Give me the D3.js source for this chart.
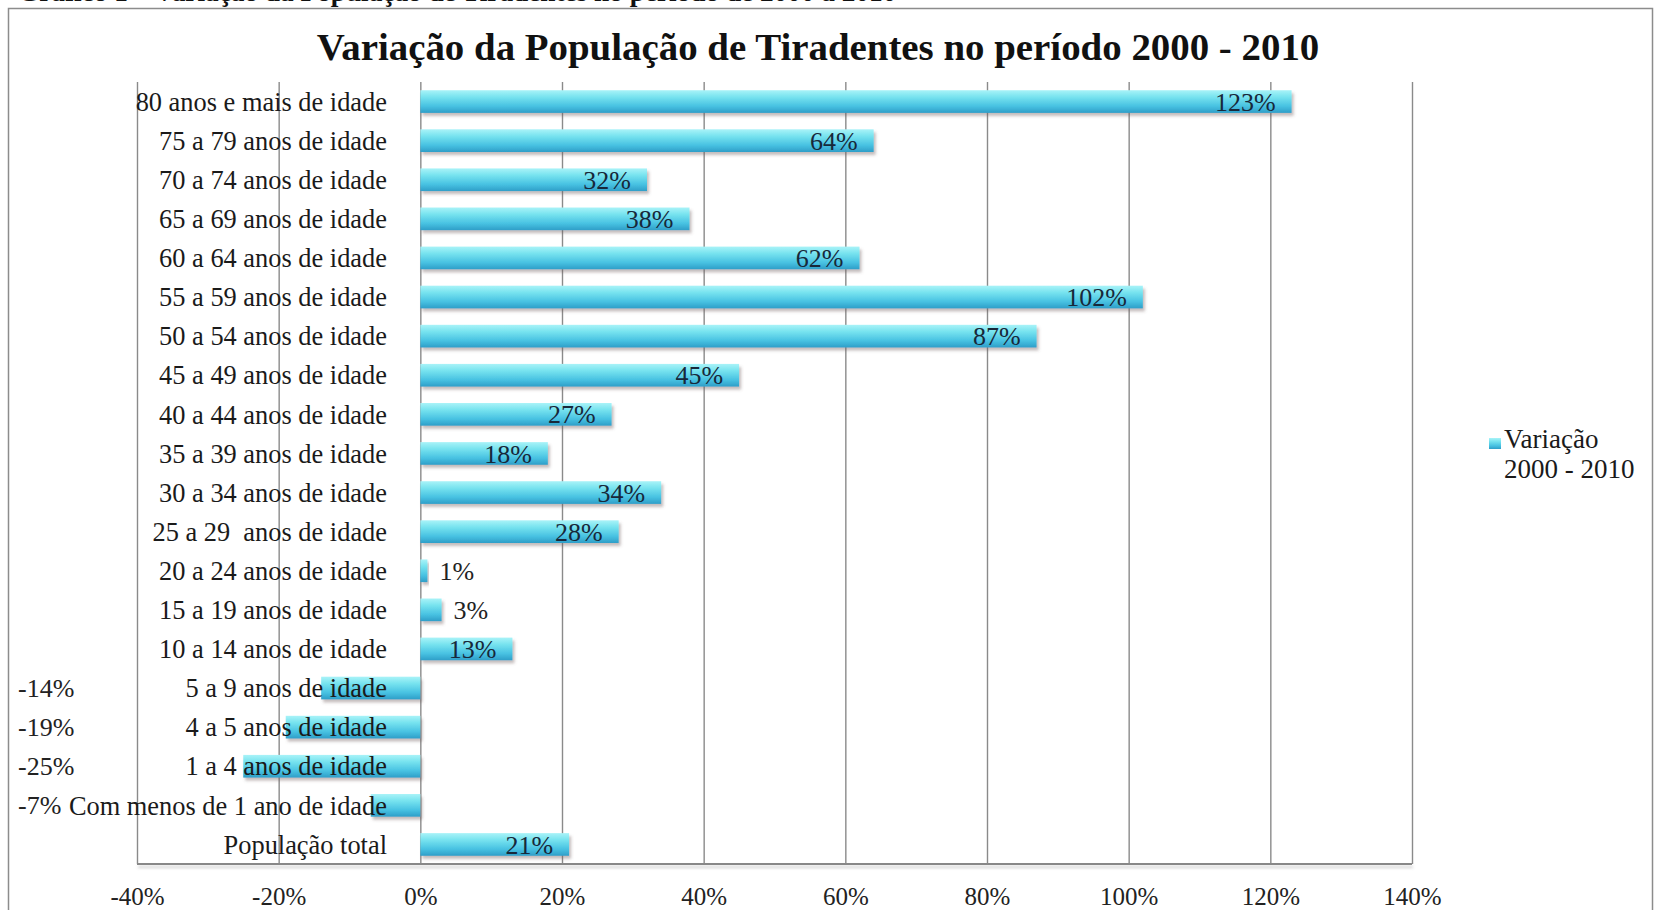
<!DOCTYPE html>
<html lang="pt">
<head>
<meta charset="utf-8">
<title>Variação da População de Tiradentes no período 2000 - 2010</title>
<script src="https://cdn.jsdelivr.net/npm/d3@7/dist/d3.min.js"></script>
<style>
  html, body { margin: 0; padding: 0; background: #fff; }
  svg { display: block; }
  text { font-family: "Liberation Serif", "Times New Roman", serif; }
</style>
</head>
<body>
<svg id="chart" width="1656" height="910"></svg>
<script>
// Faixas etárias (de cima para baixo) e variação percentual 2000-2010
const categories = [
  "80 anos e mais de idade",
  "75 a 79 anos de idade",
  "70 a 74 anos de idade",
  "65 a 69 anos de idade",
  "60 a 64 anos de idade",
  "55 a 59 anos de idade",
  "50 a 54 anos de idade",
  "45 a 49 anos de idade",
  "40 a 44 anos de idade",
  "35 a 39 anos de idade",
  "30 a 34 anos de idade",
  "25 a 29  anos de idade",
  "20 a 24 anos de idade",
  "15 a 19 anos de idade",
  "10 a 14 anos de idade",
  "5 a 9 anos de idade",
  "4 a 5 anos de idade",
  "1 a 4 anos de idade",
  "Com menos de 1 ano de idade",
  "População total"
];
const variacao = [123, 64, 32, 38, 62, 102, 87, 45, 27, 18, 34, 28, 1, 3, 13, -14, -19, -25, -7, 21];
const xTicks = [-40, -20, 0, 20, 40, 60, 80, 100, 120, 140];
const seriesName = ["Variação", "2000 - 2010"];
const caption = "Gráfico 1 – Variação da População de Tiradentes no período de 2000 a 2010";
const title = "Variação da População de Tiradentes no período 2000 - 2010";

const svg = d3.select("#chart");
const plot = { left: 137, right: 1412, top: 82, bottom: 864 };

const x = d3.scaleLinear().domain([-40, 140]).range([plot.left, plot.right]);
const y = d3.scaleBand().domain(categories).range([plot.top, plot.bottom])
  .paddingInner(0.42).paddingOuter(0.21);

// gradient + shadow definitions
const defs = svg.append("defs");
const grad = defs.append("linearGradient").attr("id", "barGrad")
  .attr("x1", 0).attr("y1", 0).attr("x2", 0).attr("y2", 1);
[["0%", "#a9f3f8"], ["30%", "#77e3ef"], ["70%", "#48c2e2"], ["100%", "#2e9ec8"]]
  .forEach(([o, c]) => grad.append("stop").attr("offset", o).attr("stop-color", c));
const sh = defs.append("filter").attr("id", "shadow")
  .attr("x", "-10%").attr("y", "-30%").attr("width", "130%").attr("height", "180%");
sh.append("feDropShadow").attr("dx", 2).attr("dy", 3).attr("stdDeviation", 1.6)
  .attr("flood-color", "#6b5a5a").attr("flood-opacity", 0.4);
// shadow for thin lines (zero-height bounding box needs user-space region)
const lsh = defs.append("filter").attr("id", "lineShadow")
  .attr("filterUnits", "userSpaceOnUse")
  .attr("x", 0).attr("y", 0).attr("width", 1656).attr("height", 910);
lsh.append("feDropShadow").attr("dx", 1).attr("dy", 3).attr("stdDeviation", 1.5)
  .attr("flood-color", "#777").attr("flood-opacity", 0.35);

// caption above the chart frame
const cap = svg.append("text").attr("x", 18).attr("y", 1)
  .attr("font-size", 24).attr("font-weight", "bold").attr("fill", "#111").text(caption);
const capLen = cap.node().getComputedTextLength();
cap.attr("font-size", 24 * 879 / capLen);

// chart frame
svg.append("rect").attr("x", 8.5).attr("y", 8.5).attr("width", 1644).attr("height", 920)
  .attr("fill", "#fff").attr("stroke", "#8c8c8c").attr("stroke-width", 1.5);

// title
const t = svg.append("text").attr("x", 818).attr("y", 60).attr("text-anchor", "middle")
  .attr("font-size", 36).attr("font-weight", "bold").attr("fill", "#111").text(title);
const tLen = t.node().getComputedTextLength();
t.attr("font-size", 36 * 1003 / tLen);

// vertical gridlines
const grid = svg.append("g").attr("transform", `translate(0,${plot.bottom})`)
  .call(d3.axisBottom(x).tickValues(xTicks).tickSize(-(plot.bottom - plot.top)).tickFormat(""));
grid.select(".domain").remove();
grid.selectAll(".tick line").attr("stroke", "#8a8a8a").attr("stroke-width", 1.4);

// horizontal axis line
svg.append("line").attr("x1", x(-40)).attr("x2", x(140))
  .attr("y1", plot.bottom).attr("y2", plot.bottom)
  .attr("stroke", "#888").attr("stroke-width", 2.2).attr("filter", "url(#lineShadow)");

// tick labels
const axis = svg.append("g").attr("transform", `translate(0,${plot.bottom})`)
  .call(d3.axisBottom(x).tickValues(xTicks).tickSize(0).tickPadding(23).tickFormat(d => d + "%"));
axis.select(".domain").remove();
axis.selectAll("text").attr("font-family", "Liberation Serif, serif")
  .attr("font-size", 25).attr("fill", "#222");

const rows = categories.map((c, i) => ({ c, v: variacao[i] }));

// bars
svg.append("g").selectAll("rect").data(rows).join("rect")
  .attr("x", d => x(Math.min(0, d.v)))
  .attr("y", d => y(d.c))
  .attr("width", d => Math.abs(x(d.v) - x(0)))
  .attr("height", y.bandwidth())
  .attr("fill", "url(#barGrad)")
  .attr("filter", "url(#shadow)");

// category labels
svg.append("g").selectAll("text").data(rows).join("text")
  .attr("x", 387)
  .attr("y", d => y(d.c) + y.bandwidth() / 2)
  .attr("dy", "0.35em")
  .attr("text-anchor", "end")
  .attr("font-size", 26.4).attr("fill", "#1a1a1a")
  .attr("xml:space", "preserve")
  .text(d => d.c);

// value labels
svg.append("g").selectAll("text").data(rows).join("text")
  .attr("x", d => d.v < 0 ? 18 : (d.v >= 5 ? x(d.v) - 16 : x(d.v) + 12))
  .attr("y", d => y(d.c) + y.bandwidth() / 2)
  .attr("dy", "0.35em")
  .attr("text-anchor", d => d.v < 0 || d.v < 5 ? "start" : "end")
  .attr("font-size", 26)
  .attr("fill", d => d.v >= 5 ? "#17283a" : "#222")
  .text(d => d.v + "%");

// legend
const lg = svg.append("g");
lg.append("rect").attr("x", 1489).attr("y", 438).attr("width", 12).attr("height", 11)
  .attr("fill", "url(#barGrad)");
lg.selectAll("text").data(seriesName).join("text")
  .attr("x", 1504).attr("y", (d, i) => 448 + i * 30)
  .attr("font-size", 27).attr("fill", "#1a1a1a").text(d => d);
</script>
</body>
</html>
